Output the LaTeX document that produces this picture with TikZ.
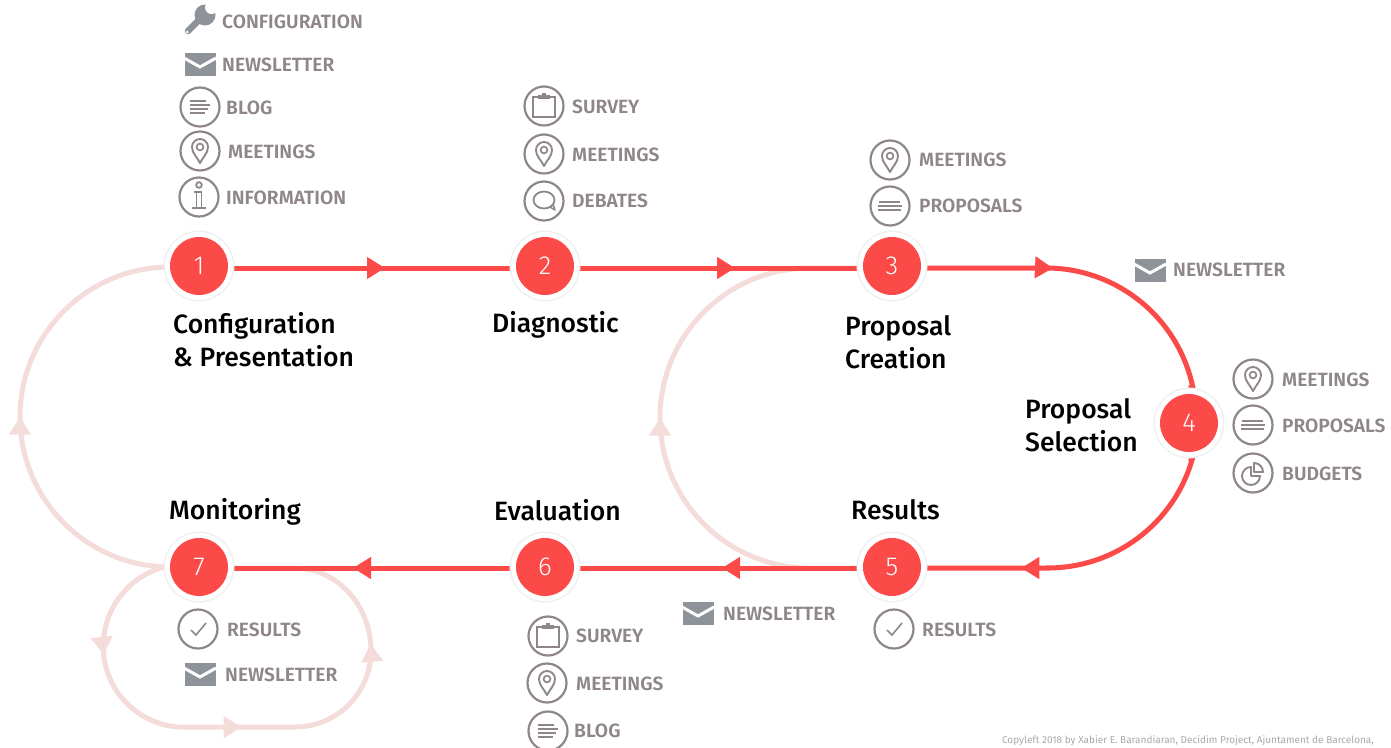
\documentclass[tikz,border=0pt]{standalone}
\usepackage{fontspec}
\setmainfont{Fira Sans}[BoldFont=Fira Sans Medium]
\newfontfamily\numfont{Fira Sans Light}
\newfontfamily\labelfont{Fira Sans SemiBold}
\usetikzlibrary{arrows.meta,decorations.markings,backgrounds}
\definecolor{stepred}{HTML}{FB4A47}
\definecolor{palepink}{HTML}{F3DCD9}
\definecolor{ringgray}{HTML}{EEF0F0}
\definecolor{labelgray}{HTML}{8E868A}
\definecolor{mailgray}{HTML}{8D9399}
\definecolor{footgray}{HTML}{A8A8A8}
\tikzset{
  stepnode/.style={circle,fill=stepred,minimum size=58pt,inner sep=0pt,outer sep=6pt,text=white,
    font=\numfont\fontsize{26}{26}\selectfont,
    preaction={draw=ringgray,line width=13pt},preaction={draw=white,line width=10pt}},
  headline/.style={anchor=west,inner sep=0pt,align=left,text=black,font=\bfseries\fontsize{26.5}{33}\selectfont},
  itemlabel/.style={anchor=west,inner sep=0pt,text=labelgray,font=\labelfont\fontsize{19.2}{20}\selectfont},
  iconring/.style={circle,draw=labelgray,line width=2.2pt,minimum size=39pt,inner sep=0pt},
  footnote/.style={anchor=east,inner sep=0pt,text=footgray,font=\fontsize{10}{12}\selectfont},
  redline/.style={draw=stepred,line width=5pt},
  paleline/.style={draw=palepink,line width=5pt},
  tipat/.style={postaction={decorate,decoration={markings,
    mark=at position #1 with {\arrow{Triangle[length=18pt,width=21pt]}}}}},
  % the little drawings inside the rings
  pinicon/.pic={
    \draw[labelgray,line width=1.9pt,line join=round] (0,12) .. controls (-3,6) and (-8,2) .. (-8,-4)
      arc[start angle=180,end angle=360,radius=8] .. controls (8,2) and (3,6) .. cycle;
    \draw[labelgray,line width=1.7pt] (0,-4) circle[radius=3.4];
  },
  blogicon/.pic={
    \draw[labelgray,line width=1.9pt] (-10,-6) -- (6,-6) (-10,-2) -- (10,-2) (-10,2) -- (8,2) (-10,6) -- (5,6);
  },
  propicon/.pic={
    \draw[labelgray,line width=1.9pt] (-11,-4) -- (10,-4) (-12,0) -- (12,0) (-12,4) -- (11,4);
  },
  infoicon/.pic={
    \draw[labelgray,line width=1.8pt] (0,-12) circle[radius=2.8];
    \draw[labelgray,line width=1.8pt] (-5,-5) -- (2.5,-5) -- (2.5,11) (-2.5,-5) -- (-2.5,11) (-7,11) -- (7,11);
  },
  surveyicon/.pic={
    \draw[labelgray,line width=1.9pt] (-5,-9) -- (-11,-9) -- (-11,11) -- (11,11) -- (11,-9) -- (5,-9);
    \fill[labelgray] (-6,-11) rectangle (6,-7);
    \fill[labelgray] (-2,-13.5) rectangle (2,-10);
  },
  debateicon/.pic={
    \draw[labelgray,line width=1.8pt] (0,-1) ellipse[x radius=10.5,y radius=8.5];
    \draw[labelgray,line width=1.5pt,line join=round] (6,6) -- (11,9) -- (9,3);
  },
  budgeticon/.pic={
    \draw[labelgray,line width=1.9pt,line join=round] (-2,3) -- (-2,-6) arc[start angle=270,end angle=0,radius=9,delta angle=-270] -- cycle;
    \draw[labelgray,line width=1.9pt,line join=round] (1,-1) -- (1,-10) arc[start angle=-90,end angle=0,radius=9] -- cycle;
  },
  checkicon/.pic={
    \draw[labelgray,line width=1.6pt] (-7,1) -- (-2,6) -- (8,-6);
  },
  mailicon/.pic={
    \fill[mailgray] (-15.5,-11.5) rectangle (15.5,11.5);
    \draw[white,line width=3pt] (-16,-6) -- (0,3) -- (16,-6);
  },
  wrenchicon/.pic={
    \draw[mailgray,line width=6.5pt,line cap=round] (-12,11) -- (3,-4);
    \fill[mailgray] (5,-5) circle[radius=10.5];
    \fill[white] (11.5,-12.5) circle[radius=6.5];
    \fill[white] (-13,12) circle[radius=1.5];
  },
}
\begin{document}
\begin{tikzpicture}[x=1pt,y=-1pt]
    \useasboundingbox (0,0) rectangle (1391,747);
    % the seven steps
    \node[stepnode] (step1) at (199,266) {1};
    \node[stepnode] (step2) at (545,266) {2};
    \node[stepnode] (step3) at (892,266) {3};
    \node[stepnode] (step4) at (1189,423) {4};
    \node[stepnode] (step5) at (892,567) {5};
    \node[stepnode] (step6) at (545,567) {6};
    \node[stepnode] (step7) at (199,567) {7};

    % the step titles
    \node[headline] (title1) at (173,340) {Configuration\\\& Presentation};
    \node[headline] (title2) at (492,325) {Diagnostic};
    \node[headline] (title3) at (845,342) {Proposal\\Creation};
    \node[headline] (title4) at (1025,425) {Proposal\\Selection};
    \node[headline] (title5) at (851,510) {Results};
    \node[headline] (title6) at (494,510) {Evaluation};
    \node[headline] (title7) at (169,512) {Monitoring};

    % items of step 1
    \pic at (200,20) {wrenchicon};
    \node[itemlabel] (config1) at (222,22) {CONFIGURATION};
    \pic at (200,64) {mailicon};
    \node[itemlabel] (news1) at (222,65) {NEWSLETTER};
    \node[iconring] (blogring1) at (200,107) {};
    \pic at (blogring1) {blogicon};
    \node[itemlabel] (blog1) at (226,108) {BLOG};
    \node[iconring] (meetring1) at (200,151) {};
    \pic at (meetring1) {pinicon};
    \node[itemlabel] (meet1) at (228,152) {MEETINGS};
    \node[iconring] (inforing1) at (199,197) {};
    \pic at (inforing1) {infoicon};
    \node[itemlabel] (info1) at (226,198) {INFORMATION};

    % items of step 2
    \node[iconring] (survring2) at (544,106) {};
    \pic at (survring2) {surveyicon};
    \node[itemlabel] (surv2) at (572,107) {SURVEY};
    \node[iconring] (meetring2) at (544,154) {};
    \pic at (meetring2) {pinicon};
    \node[itemlabel] (meet2) at (572,155) {MEETINGS};
    \node[iconring] (debring2) at (544,201) {};
    \pic at (debring2) {debateicon};
    \node[itemlabel] (deb2) at (572,201) {DEBATES};

    % items of step 3
    \node[iconring] (meetring3) at (890,160) {};
    \pic at (meetring3) {pinicon};
    \node[itemlabel] (meet3) at (919,160) {MEETINGS};
    \node[iconring] (propring3) at (890,206) {};
    \pic at (propring3) {propicon};
    \node[itemlabel] (prop3) at (919,206) {PROPOSALS};
    \pic at (1150,270) {mailicon};
    \node[itemlabel] (news3) at (1173,270) {NEWSLETTER};

    % items of step 4
    \node[iconring] (meetring4) at (1253,379) {};
    \pic at (meetring4) {pinicon};
    \node[itemlabel] (meet4) at (1282,380) {MEETINGS};
    \node[iconring] (propring4) at (1253,425) {};
    \pic at (propring4) {propicon};
    \node[itemlabel] (prop4) at (1282,426) {PROPOSALS};
    \node[iconring] (budring4) at (1253,473) {};
    \pic at (budring4) {budgeticon};
    \node[itemlabel] (bud4) at (1282,474) {BUDGETS};

    % items of step 5
    \node[iconring] (resring5) at (894,629) {};
    \pic at (resring5) {checkicon};
    \node[itemlabel] (res5) at (922,630) {RESULTS};
    \pic at (698,613) {mailicon};
    \node[itemlabel] (news5) at (723,614) {NEWSLETTER};

    % items of step 6
    \node[iconring] (survring6) at (548,636) {};
    \pic at (survring6) {surveyicon};
    \node[itemlabel] (surv6) at (576,636) {SURVEY};
    \node[iconring] (meetring6) at (547,683) {};
    \pic at (meetring6) {pinicon};
    \node[itemlabel] (meet6) at (576,684) {MEETINGS};
    \node[iconring] (blogring6) at (548,731) {};
    \pic at (blogring6) {blogicon};
    \node[itemlabel] (blog6) at (574,731) {BLOG};

    % items of step 7
    \node[iconring] (resring7) at (198,629) {};
    \pic at (resring7) {checkicon};
    \node[itemlabel] (res7) at (227,630) {RESULTS};
    \pic at (200,674) {mailicon};
    \node[itemlabel] (news7) at (225,675) {NEWSLETTER};

    % the credit line
    \node[footnote] (credit) at (1374,741) {Copyleft 2018 by Xabier E. Barandiaran, Decidim Project, Ajuntament de Barcelona,};

    \begin{scope}[on background layer]
        % the pale loops back
        \draw[paleline,tipat=236pt] ([xshift=6pt]step7.west) arc[start angle=90,end angle=270,radius=150] -- (step1.west);
        \draw[paleline,tipat=283pt] ([yshift=-1pt]step5.west) -- (810,568) arc[start angle=90,end angle=270,radius=150] -- ([yshift=-2pt]step3.west);
        \draw[paleline,tipat=116pt,tipat=292pt,tipat=472pt] (step7.west)
            arc[start angle=255,end angle=180,radius=82]
            arc[start angle=180,end angle=90,radius=81] -- (295,727)
            arc[start angle=90,end angle=0,radius=76]
            arc[start angle=0,end angle=-90,x radius=76,y radius=83] -- ([yshift=-1pt]step7.east);
        % the red way through the steps
        \draw[redline,tipat=151pt] ([yshift=-2pt]step1.east) -- ([yshift=-2pt]step2.west);
        \draw[redline,tipat=155pt] ([yshift=-2pt]step2.east) -- ([yshift=-2pt]step3.west);
        \draw[redline,tipat=126pt] ([yshift=-2pt]step3.east) -- (1046,268) arc[start angle=270,end angle=348,radius=150] -- (step4.north);
        \draw[redline,tipat=224pt] (step4.south) -- (1192.2,459.3) arc[start angle=16,end angle=90,radius=150] -- (1048,568) -- ([yshift=-1pt]step5.east);
        \draw[redline,tipat=135pt] ([yshift=-1pt]step5.west) -- ([yshift=-1pt]step6.east);
        \draw[redline,tipat=157pt] ([yshift=-1pt]step6.west) -- ([yshift=-1pt]step7.east);
    \end{scope}
\end{tikzpicture}
\end{document}
